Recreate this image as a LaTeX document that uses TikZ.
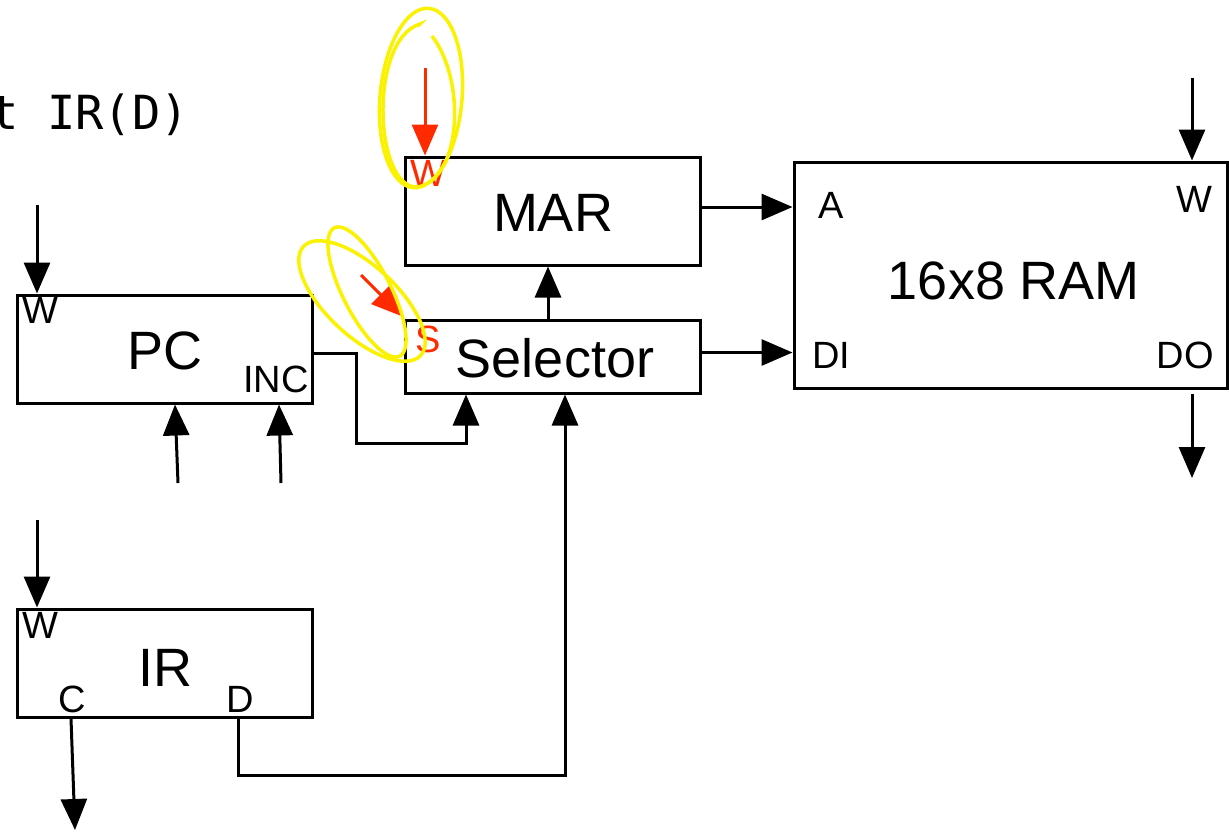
\documentclass[tikz,border=0pt]{standalone}
\usepackage{fontspec}
\setmainfont{Liberation Sans}
\newfontfamily\codefont{DejaVu Sans Mono}
\usetikzlibrary{arrows.meta}
\definecolor{annred}{HTML}{FF2A00}
\definecolor{annyellow}{HTML}{FAF200}
\begin{document}
\begin{tikzpicture}[x=1pt,y=-1pt,
  box/.style={draw, line width=3pt, rectangle, inner sep=0pt},
  lbl/.style={font=\fontsize{38}{40}\selectfont, inner sep=0pt},
  big/.style={font=\fontsize{54}{58}\selectfont, inner sep=0pt},
  arr/.style={-{Triangle[length=31pt,width=26pt]}, line width=3pt},
  redarr/.style={arr, draw=annred, -{Triangle[length=31pt,width=26pt]}},
  yel/.style={draw=annyellow, line width=3.5pt}
]
\useasboundingbox (0,0) rectangle (1229,831);

% code text
\node[font=\codefont\fontsize{47}{52}\selectfont, inner sep=0pt, anchor=base east] (code) at (189,129) {t IR(D)};

% boxes
\node[box, minimum width=295pt, minimum height=108pt] (mar) at (552.5,211) {};
\node[box, minimum width=295pt, minimum height=73pt] (sel) at (552.5,356.5) {};
\node[box, minimum width=433pt, minimum height=226pt] (ram) at (1010.5,275) {};
\node[box, minimum width=295pt, minimum height=108pt] (pc) at (164.5,349) {};
\node[box, minimum width=295pt, minimum height=108pt] (ir) at (164.5,663) {};

% main labels
\node[big, anchor=base] (marlbl) at (553,231) {MAR};
\node[big, anchor=base] (sellbl) at (555,377) {Selector};
\node[big, anchor=base] (ramlbl) at (1014,299) {16x8 RAM};
\node[big, anchor=base] (pclbl) at (165,369) {PC};
\node[big, anchor=base] (irlbl) at (165,686) {IR};

% port labels
\node[lbl, anchor=base west] (pcw) at (22,323) {W};
\node[lbl, anchor=base east] (pcinc) at (309,392) {INC};
\node[lbl, anchor=base west] (irw) at (22,638) {W};
\node[lbl, anchor=base] (irc) at (72,712) {C};
\node[lbl, anchor=base] (ird) at (240,712) {D};
\node[lbl, anchor=base west, text=annred] (marw) at (410,186) {W};
\node[lbl, anchor=base west, text=annred] (sels) at (415,352) {S};
\node[lbl, anchor=base west] (rama) at (818,218) {A};
\node[lbl, anchor=base east] (ramw) at (1213,212) {W};
\node[lbl, anchor=base west] (ramdi) at (812,368) {DI};
\node[lbl, anchor=base east] (ramdo) at (1214,368) {DO};

% free ends
\coordinate (ramwin) at (1192,78);
\coordinate (doA) at (1192,394);
\coordinate (doB) at (1192,478);
\coordinate (pcwin) at (37,205);
\coordinate (pcin1) at (178,483);
\coordinate (pcin2) at (281,483);
\coordinate (irwin) at (37,520);
\coordinate (ircout) at (75,830);
\coordinate (dbend) at (565,775);
\coordinate (incbend) at (356,443);
\coordinate (marwin) at (425,68);
\coordinate (selsin) at (361,275);

% connectors
\draw[arr] ([yshift=4pt]mar.east) -- ([yshift=4pt]mar.east -| ram.west);
\draw[arr] ([yshift=4pt]sel.east) -- ([yshift=4pt]sel.east -| ram.west);
\draw[arr] ([xshift=-4.5pt]sel.north) -- ([xshift=-4.5pt]mar.south);
\draw[arr] (ramwin) -- (ramwin |- ram.north);
\draw[arr] (doA) -- (doB);
\draw[arr] (pcwin) -- (pcwin |- pc.north);
\draw[arr] (pcin1) -- ([xshift=10.5pt]pc.south);
\draw[arr] (pcin2) -- ([xshift=114.5pt]pc.south);
\draw[arr] (irwin) -- (irwin |- ir.north);
\draw[arr] ([xshift=-93.5pt]ir.south) -- (ircout);
\draw[arr] ([xshift=73.5pt]ir.south) |- (dbend) -- (dbend |- sel.south);
\draw[arr] ([yshift=-4pt]pc.east) -| (incbend) -| ([xshift=-86.5pt]sel.south);

% red annotations
\draw[redarr] (marwin) -- (marwin |- mar.north);
\draw[redarr] (selsin) -- ([xshift=-1pt,yshift=2pt]sel.north west);

% yellow loops
\draw[yel, rotate around={-5:(421,98)}] (421,98) ellipse [x radius=41, y radius=90];
\draw[yel] (432,36) .. controls (466,80) and (462,178) .. (418,187) .. controls (374,190) and (368,40) .. (420,24) -- (418,26);
\draw[yel, rotate around={-43:(362,301)}] (362,301) ellipse [x radius=80, y radius=35];
\draw[yel, rotate around={-63:(367,292)}] (367,292) ellipse [x radius=72, y radius=24];
\end{tikzpicture}
\end{document}
